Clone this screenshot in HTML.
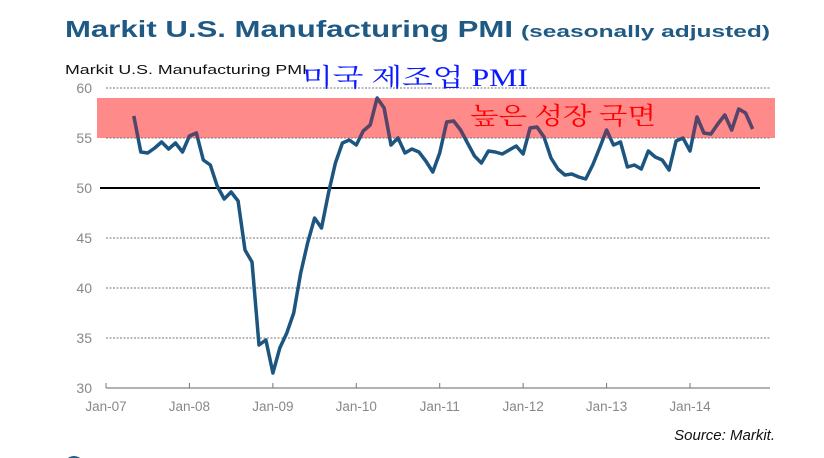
<!DOCTYPE html>
<html><head><meta charset="utf-8"><style>
body{margin:0;background:#fff;}
svg{display:block;font-family:"Liberation Sans",sans-serif;}
</style></head><body>
<svg id="chart" width="824" height="458" viewBox="0 0 824 458">
<text x="65" y="37" font-size="23" font-weight="bold" fill="#1f5a85" textLength="448" lengthAdjust="spacingAndGlyphs">Markit U.S. Manufacturing PMI</text>
<text x="521" y="37" font-size="17" font-weight="bold" fill="#1f5a85" textLength="249" lengthAdjust="spacingAndGlyphs">(seasonally adjusted)</text>
<text x="65" y="74" font-size="13" fill="#111" textLength="242" lengthAdjust="spacingAndGlyphs">Markit U.S. Manufacturing PMI</text>
<rect id="band" x="97" width="678" fill="#ff8a8a"/>
<g id="grid"></g>
<g id="axis"></g>
<path id="line" fill="none" stroke="#1c557f" stroke-width="3.5" stroke-linejoin="round"/>
<path id="lineover" fill="none" stroke="#a03050" stroke-width="3.5" opacity="0.45" stroke-linejoin="round"/>
<text x="302" y="86" font-size="25" fill="#0a1aff" font-family="'Liberation Serif','Noto Serif CJK SC',serif" textLength="226" lengthAdjust="spacingAndGlyphs">미국 제조업 PMI</text>
<text x="470" y="124" font-size="24" fill="#ff0000" font-family="'Liberation Serif','Noto Serif CJK SC',serif" textLength="186" lengthAdjust="spacingAndGlyphs">높은 성장 국면</text>
<text x="775" y="440" font-size="15" font-style="italic" fill="#111" text-anchor="end">Source: Markit.</text>
<circle cx="74" cy="466" r="10" fill="#1f5a85"/>
</svg>
<script>
const yTicks=[30,35,40,45,50,55,60];
const xLabels=["Jan-07","Jan-08","Jan-09","Jan-10","Jan-11","Jan-12","Jan-13","Jan-14"];
const bandRange=[55,59];
const startMonth=4; // May 2007 (months since Jan-07)
const pmi=[57.2,53.6,53.5,54.0,54.6,53.9,54.5,53.6,
55.2,55.5,52.8,52.3,50.2,48.9,49.6,48.7,43.8,42.6,34.3,34.8,
31.5,34.0,35.5,37.5,41.5,44.5,47.0,46.0,49.5,52.5,54.5,54.8,
54.3,55.7,56.3,59.0,58.0,54.3,55.0,53.5,53.9,53.6,52.7,51.6,
53.5,56.6,56.7,55.8,54.5,53.2,52.5,53.7,53.6,53.4,53.8,54.2,
53.4,56.0,56.1,55.1,53.0,51.9,51.3,51.4,51.1,50.9,52.3,54.0,
55.8,54.3,54.6,52.1,52.3,51.9,53.7,53.1,52.8,51.8,54.7,55.0,
53.7,57.1,55.5,55.4,56.4,57.3,55.8,57.9,57.5,55.9];
const NS="http://www.w3.org/2000/svg";
const y=v=>388-(v-30)*10;
const x=m=>106+m*(584/84);
const grid=document.getElementById('grid'),axis=document.getElementById('axis');
const band=document.getElementById('band');
band.setAttribute('y',y(bandRange[1]));band.setAttribute('height',y(bandRange[0])-y(bandRange[1]));
function mk(tag,attrs,parent){const e=document.createElementNS(NS,tag);for(const k in attrs)e.setAttribute(k,attrs[k]);parent.appendChild(e);return e;}
yTicks.forEach(v=>{
 if(v===30){}
 else if(v===50){const l=mk('line',{x1:100,x2:760,y1:y(v),y2:y(v),stroke:'#000','stroke-width':2},grid);
 
 }
 else{const l=mk('line',{x1:106,x2:770,y1:y(v),y2:y(v),stroke:'#777','stroke-width':1,'stroke-dasharray':'2,1.5'},grid);
 
 }
 const t=mk('text',{x:92,y:y(v)+5,'font-size':14,fill:'#888','text-anchor':'end'},axis);t.textContent=v;
 
 
});
const ax=mk('line',{x1:106,x2:770,y1:388,y2:388,stroke:'#999','stroke-width':1.5},axis);


xLabels.forEach((s,i)=>{
 const xx=x(i*12);
 const tk=mk('line',{x1:xx,x2:xx,y1:388,y2:383,stroke:'#777'},axis);
 
 
 const t=mk('text',{x:xx,y:411,'font-size':13.5,fill:'#888','text-anchor':'middle'},axis);t.textContent=s;
 
 
});
let d=pmi.map((v,i)=>(i?'L':'M')+x(startMonth+i).toFixed(1)+','+y(v).toFixed(1)).join('');
document.getElementById('line').setAttribute('d',d);
const cp=mk('clipPath',{id:'bc'},document.getElementById('chart'));
mk('rect',{x:97,y:y(bandRange[1]),width:678,height:y(bandRange[0])-y(bandRange[1])},cp);
const lo=document.getElementById('lineover');lo.setAttribute('d',d);lo.setAttribute('clip-path','url(#bc)');
</script>
</body></html>
